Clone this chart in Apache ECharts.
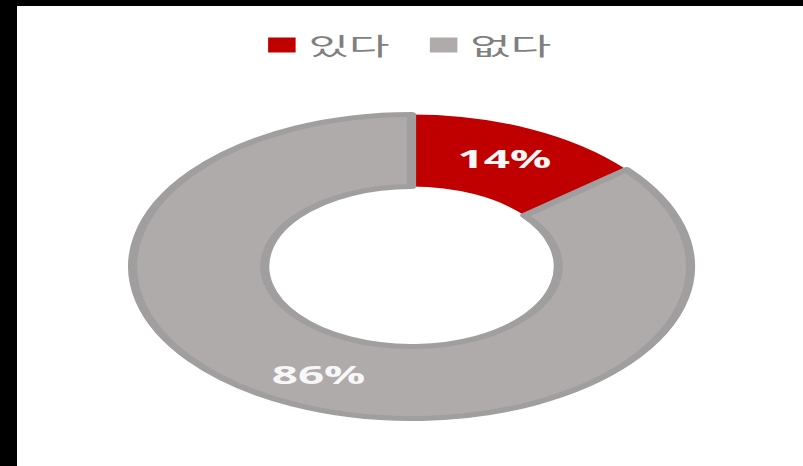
<!DOCTYPE html>
<html>
<head>
<meta charset="utf-8">
<script src="https://cdn.jsdelivr.net/npm/echarts@6/dist/echarts.min.js"></script>
<style>
  html, body { margin: 0; padding: 0; background: #000; width: 803px; height: 466px; overflow: hidden; }
  #frame { position: absolute; left: 17px; top: 6px; width: 786px; height: 460px; background: #fff; overflow: hidden; }
  #chart { position: absolute; left: 0; top: 0; width: 428.3px; height: 460px; transform: scaleX(1.835); transform-origin: 0 0; }
</style>
</head>
<body>
<div id="frame"><div id="chart"></div></div>
<script>
const categories = ['있다', '없다'];
const values = [14, 86];
const colors = ['#C00000', '#AFABAB'];

const chart = echarts.init(document.getElementById('chart'), null, { renderer: 'svg' });
chart.setOption({
  animation: false,
  backgroundColor: '#ffffff',
  legend: {
    data: categories,
    top: 22,
    left: 'center',
    icon: 'rect',
    itemWidth: 15,
    itemHeight: 15,
    itemGap: 22,
    selectedMode: false,
    itemStyle: { borderWidth: 0 },
    textStyle: { color: '#7F7F7F', fontSize: 24, fontFamily: 'Noto Sans CJK KR', padding: [0, 0, 0, 2] }
  },
  series: [{
    type: 'pie',
    center: [215, 260.5],
    radius: [80, 152],
    startAngle: 90,
    clockwise: true,
    avoidLabelOverlap: false,
    silent: true,
    label: {
      show: true,
      position: 'inside',
      formatter: '{c}%',
      color: '#F7F7F7',
      fontSize: 25,
      fontWeight: 'bold',
      fontFamily: 'Open Sans'
    },
    labelLine: { show: false },
    data: categories.map((c, i) => ({
      name: c,
      value: values[i],
      itemStyle: i === 1
        ? { color: colors[i], borderColor: '#A09E9E', borderWidth: 5 }
        : { color: colors[i], borderWidth: 0 }
    }))
  }]
});
</script>
</body>
</html>
